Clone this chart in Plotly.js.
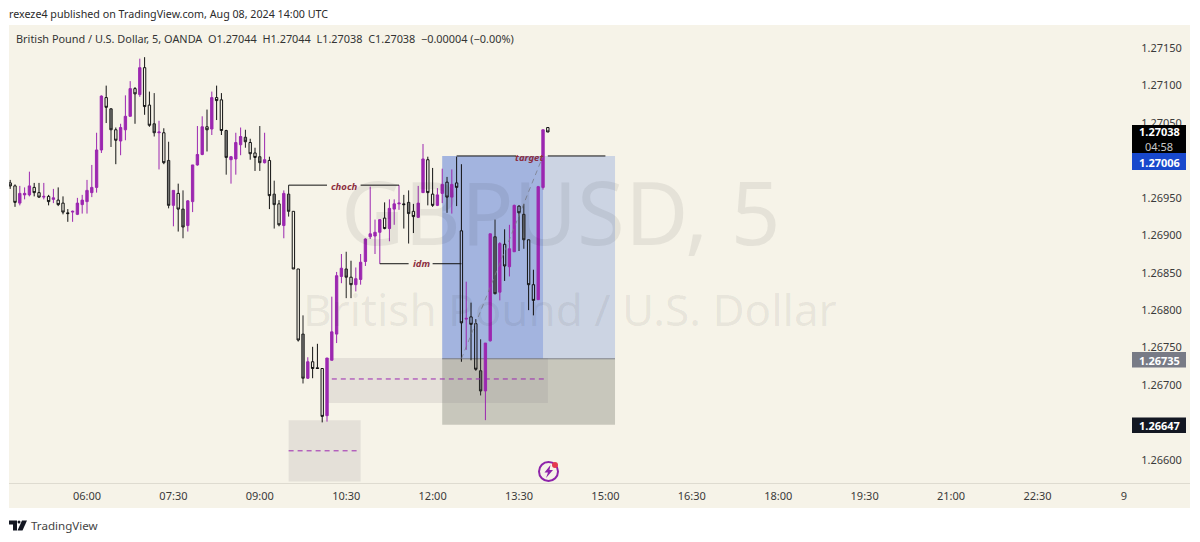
<!DOCTYPE html>
<html><head><meta charset="utf-8">
<script src="https://cdn.plot.ly/plotly-3.0.1.min.js"></script>
<style>html,body{margin:0;padding:0;background:#fff}#chart{width:1200px;height:542px}</style>
</head><body><div id="chart"></div>
<script>
const barTimes = ["04:40","04:45","04:50","04:55","05:00","05:05","05:10","05:15","05:20","05:25","05:30","05:35","05:40","05:45","05:50","05:55","06:00","06:05","06:10","06:15","06:20","06:25","06:30","06:35","06:40","06:45","06:50","06:55","07:00","07:05","07:10","07:15","07:20","07:25","07:30","07:35","07:40","07:45","07:50","07:55","08:00","08:05","08:10","08:15","08:20","08:25","08:30","08:35","08:40","08:45","08:50","08:55","09:00","09:05","09:10","09:15","09:20","09:25","09:30","09:35","09:40","09:45","09:50","09:55","10:00","10:05","10:10","10:15","10:20","10:25","10:30","10:35","10:40","10:45","10:50","10:55","11:00","11:05","11:10","11:15","11:20","11:25","11:30","11:35","11:40","11:45","11:50","11:55","12:00","12:05","12:10","12:15","12:20","12:25","12:30","12:35","12:40","12:45","12:50","12:55","13:00","13:05","13:10","13:15","13:20","13:25","13:30","13:35","13:40","13:45","13:50","13:55","14:00"];
const kinds = "DDUUUDDUDUDDDUUUUUUUDGDUUUDUDDGUDGUDGUUUUDUDDGUUUGDDGUDGDUGDDGUDDDUUUUGDUUUUUUDUUUDGDUUDDUUDUDDUDDGUUGUDUUDGDDUUD".split("");
const highs = [1.26974,1.26968,1.26966,1.26964,1.26985,1.26970,1.26970,1.26970,1.26954,1.26962,1.26964,1.26952,1.26935,1.26933,1.26950,1.26954,1.26974,1.26994,1.27037,1.27087,1.27100,1.27070,1.27044,1.27049,1.27087,1.27106,1.27098,1.27136,1.27138,1.27092,1.27090,1.27053,1.27043,1.27025,1.26960,1.26969,1.26960,1.26947,1.26994,1.27046,1.27059,1.27068,1.27092,1.27100,1.27090,1.27041,1.27006,1.27037,1.27044,1.27041,1.27029,1.27017,1.27046,1.27037,1.27005,1.26973,1.26947,1.26960,1.26967,1.26932,1.26855,1.26793,1.26737,1.26751,1.26755,1.26722,1.26736,1.26818,1.26851,1.26875,1.26878,1.26866,1.26857,1.26875,1.26896,1.26965,1.26921,1.26921,1.26944,1.26948,1.26948,1.26967,1.26954,1.26960,1.26942,1.26966,1.27022,1.27005,1.26990,1.26963,1.26989,1.26978,1.26988,1.27005,1.26995,1.26838,1.26810,1.26788,1.26761,1.26756,1.26902,1.26921,1.26891,1.26908,1.26914,1.26941,1.26940,1.26942,1.26894,1.26854,1.26966,1.27041,1.27044];
const bodyTops = [1.26970,1.26966,1.26956,1.26956,1.26966,1.26964,1.26957,1.26952,1.26952,1.26950,1.26947,1.26943,1.26930,1.26932,1.26943,1.26947,1.26960,1.26964,1.27014,1.27086,1.27084,1.27069,1.27041,1.27044,1.27059,1.27096,1.27096,1.27124,1.27124,1.27074,1.27049,1.27038,1.27037,1.27000,1.26960,1.26956,1.26935,1.26946,1.26994,1.27008,1.27045,1.27045,1.27084,1.27084,1.27081,1.27040,1.27005,1.27024,1.27032,1.27031,1.27024,1.27010,1.27005,1.27001,1.27000,1.26955,1.26942,1.26956,1.26955,1.26932,1.26855,1.26768,1.26731,1.26731,1.26723,1.26722,1.26736,1.26771,1.26846,1.26856,1.26855,1.26844,1.26842,1.26864,1.26895,1.26902,1.26904,1.26921,1.26923,1.26936,1.26942,1.26943,1.26942,1.26944,1.26932,1.26943,1.27002,1.27001,1.26955,1.26954,1.26968,1.26971,1.26968,1.26970,1.26906,1.26789,1.26791,1.26782,1.26719,1.26756,1.26902,1.26898,1.26889,1.26888,1.26882,1.26940,1.26939,1.26928,1.26894,1.26834,1.26965,1.27041,1.27044];
const bodyBottoms = [1.26966,1.26944,1.26943,1.26954,1.26954,1.26957,1.26951,1.26951,1.26945,1.26948,1.26941,1.26931,1.26929,1.26931,1.26928,1.26941,1.26945,1.26957,1.26964,1.27014,1.27071,1.27041,1.27027,1.27026,1.27041,1.27059,1.27089,1.27088,1.27072,1.27047,1.27037,1.27037,1.26997,1.26940,1.26940,1.26935,1.26911,1.26913,1.26945,1.26994,1.27008,1.27041,1.27042,1.27080,1.27040,1.27004,1.27001,1.27002,1.27021,1.27025,1.27009,1.27004,1.26997,1.26997,1.26953,1.26941,1.26914,1.26913,1.26932,1.26855,1.26760,1.26709,1.26709,1.26722,1.26722,1.26658,1.26659,1.26733,1.26768,1.26845,1.26844,1.26834,1.26834,1.26841,1.26865,1.26898,1.26899,1.26904,1.26909,1.26909,1.26935,1.26942,1.26941,1.26929,1.26925,1.26924,1.26957,1.26957,1.26940,1.26940,1.26956,1.26951,1.26951,1.26964,1.26783,1.26788,1.26781,1.26721,1.26692,1.26692,1.26759,1.26822,1.26824,1.26859,1.26858,1.26878,1.26930,1.26894,1.26834,1.26813,1.26814,1.26964,1.27038];
const lows = [1.26962,1.26938,1.26940,1.26948,1.26952,1.26952,1.26950,1.26948,1.26940,1.26943,1.26939,1.26928,1.26918,1.26918,1.26927,1.26929,1.26929,1.26951,1.26957,1.27010,1.27050,1.27018,1.26995,1.27007,1.27027,1.27059,1.27049,1.27085,1.27061,1.27045,1.27032,1.26988,1.26995,1.26936,1.26912,1.26905,1.26896,1.26905,1.26931,1.26993,1.27007,1.27012,1.27034,1.27054,1.27034,1.26981,1.26969,1.26981,1.27007,1.27017,1.27001,1.26986,1.26986,1.26996,1.26935,1.26909,1.26912,1.26896,1.26925,1.26855,1.26758,1.26702,1.26708,1.26709,1.26722,1.26650,1.26651,1.26733,1.26756,1.26836,1.26816,1.26816,1.26825,1.26834,1.26859,1.26895,1.26875,1.26862,1.26908,1.26892,1.26914,1.26934,1.26909,1.26889,1.26903,1.26923,1.26957,1.26940,1.26938,1.26939,1.26943,1.26930,1.26929,1.26939,1.26731,1.26747,1.26733,1.26719,1.26686,1.26653,1.26758,1.26821,1.26813,1.26839,1.26845,1.26878,1.26879,1.26882,1.26800,1.26793,1.26814,1.26961,1.27038];

const priceTicks = [1.266,1.2665,1.267,1.2675,1.268,1.2685,1.269,1.2695,1.27,1.2705,1.271,1.2715];
const timeTicks = ["2024-08-08 06:00","2024-08-08 07:30","2024-08-08 09:00","2024-08-08 10:30","2024-08-08 12:00","2024-08-08 13:30","2024-08-08 15:00","2024-08-08 16:30","2024-08-08 18:00","2024-08-08 19:30","2024-08-08 21:00","2024-08-08 22:30","2024-08-09 00:00"];
const timeLabels = ["06:00","07:30","09:00","10:30","12:00","13:30","15:00","16:30","18:00","19:30","21:00","22:30","9"];
const targetPrice = 1.27006, entryPrice = 1.26735, stopPrice = 1.26647;
const chochPrice = 1.26967, idmPrice = 1.26862;
const upperZone = [1.26676, 1.26736], upperZoneMid = 1.26708;
const lowerZone = [1.26571, 1.26653], lowerZoneMid = 1.26612;
const D = "2024-08-08 ";

const FONT = "Noto Sans, sans-serif";
const L = 9, R = 1132, T = 25, B = 483;
const px = x => (x - L) / (R - L);
const py = y => 1 - (y - T) / (B - T);
const CREAM = "#f6f3e8", PURPLE = "#9c27b0";

function candleTrace(kind, lineColor, fill) {
  const idx = kinds.map((k, i) => k === kind ? i : -1).filter(i => i >= 0);
  const side = {line: {color: lineColor, width: 1}, fillcolor: fill};
  return {
    type: "candlestick", x: idx.map(i => D + barTimes[i]),
    open:  idx.map(i => kind === "U" ? bodyBottoms[i] : bodyTops[i]),
    close: idx.map(i => kind === "U" ? bodyTops[i] : bodyBottoms[i]),
    high:  idx.map(i => highs[i]), low: idx.map(i => lows[i]),
    increasing: side, decreasing: side, whiskerwidth: 0,
    hoverinfo: "skip", showlegend: false
  };
}
const traces = [
  candleTrace("U", PURPLE, PURPLE),
  candleTrace("D", "#111111", "rgba(0,0,0,0)"),
  candleTrace("G", "#222222", "rgba(85,85,85,0.8)")
];

function rect(x0, x1, y0, y1, fill) {
  return {type: "rect", layer: "below", xref: "x", yref: "y", x0: D + x0, x1: D + x1, y0, y1, fillcolor: fill, line: {width: 0}};
}
function seg(x0, x1, y0, y1, color, dash, layer) {
  return {type: "line", layer: layer || "above", xref: "x", yref: "y", x0: D + x0, x1: D + x1, y0, y1, line: {color, width: 1, dash: dash || "solid"}};
}
function box(x0, x1, y0, y1, fill) {
  return {type: "rect", layer: "above", xref: "paper", yref: "paper", x0: px(x0), x1: px(x1), y0: py(y0), y1: py(y1), fillcolor: fill, line: {width: 0}};
}
const shapes = [
  {type: "rect", layer: "below", xref: "paper", yref: "paper", x0: px(9), x1: px(1190), y0: py(25), y1: py(508), fillcolor: CREAM, line: {width: 0}},
  {type: "line", layer: "below", xref: "paper", yref: "paper", x0: px(9), x1: px(1190), y0: py(483.5), y1: py(483.5), line: {color: "#dedbd0", width: 1}},
  rect("12:10", "15:10", entryPrice, targetPrice, "rgba(41,88,212,0.2)"),
  rect("12:10", "13:55", entryPrice, targetPrice, "rgba(71,105,215,0.3)"),
  rect("12:10", "15:10", stopPrice, entryPrice, "rgba(93,100,85,0.3)"),
  rect("10:10", "14:00", upperZone[0], upperZone[1], "rgba(125,123,125,0.15)"),
  rect("09:30", "10:45", lowerZone[0], lowerZone[1], "rgba(125,123,125,0.15)"),
  seg("12:10", "15:10", entryPrice, entryPrice, "rgba(110,112,120,0.8)", "solid", "below"),
  seg("12:30", "13:55", entryPrice, targetPrice, "rgba(120,123,134,0.75)", "5px,4px"),
  seg("10:15", "14:00", upperZoneMid, upperZoneMid, PURPLE, "5px,4px"),
  seg("09:30", "10:45", lowerZoneMid, lowerZoneMid, PURPLE, "5px,4px"),
  seg("09:30", "10:10", chochPrice, chochPrice, "#111111"),
  seg("10:45", "11:25", chochPrice, chochPrice, "#111111"),
  seg("11:05", "11:35", idmPrice, idmPrice, "#111111"),
  seg("12:00", "12:30", idmPrice, idmPrice, "#111111"),
  seg("12:25", "13:27", targetPrice, targetPrice, "#111111"),
  seg("14:00", "15:00", targetPrice, targetPrice, "#111111"),
  box(1132, 1186, 125, 153, "#000000"),
  box(1132, 1186, 153, 170, "#1848cc"),
  box(1132, 1186, 352, 367.5, "#787b86"),
  box(1132, 1186, 417.5, 433, "#131722"),
  // publish-mark icon
  {type: "circle", layer: "above", xref: "paper", yref: "paper", x0: px(539), x1: px(558), y0: py(462), y1: py(481), line: {color: "#8e24aa", width: 2}, fillcolor: "rgba(0,0,0,0)"},
  {type: "path", layer: "above", xref: "paper", yref: "paper", path: `M ${px(550.5)} ${py(465)} L ${px(544.5)} ${py(472.5)} L ${px(548)} ${py(472.5)} L ${px(546)} ${py(478)} L ${px(553)} ${py(470)} L ${px(549.5)} ${py(470)} Z`, fillcolor: "#8e24aa", line: {width: 0}},
  {type: "circle", layer: "above", xref: "paper", yref: "paper", x0: px(552), x1: px(558), y0: py(462), y1: py(468), line: {width: 0}, fillcolor: "#e53950"},
  // TradingView logo mark
  {type: "path", layer: "above", xref: "paper", yref: "paper", path: `M ${px(9)} ${py(520.5)} H ${px(17)} V ${py(530.5)} H ${px(13)} V ${py(524.5)} H ${px(9)} Z`, fillcolor: "#131722", line: {width: 0}},
  {type: "circle", layer: "above", xref: "paper", yref: "paper", x0: px(17.5), x1: px(20.5), y0: py(520.5), y1: py(523.5), fillcolor: "#131722", line: {width: 0}},
  {type: "path", layer: "above", xref: "paper", yref: "paper", path: `M ${px(22)} ${py(520.5)} H ${px(27)} L ${px(22.5)} ${py(530.5)} H ${px(17.5)} Z`, fillcolor: "#131722", line: {width: 0}}
];
function label(text, x, y, size, color, extra) {
  return Object.assign({text, xref: "paper", yref: "paper", x: px(x), y: py(y), xanchor: "left", yanchor: "middle", showarrow: false,
    borderpad: 0, borderwidth: 0, font: {family: FONT, size, color}}, extra || {});
}
const annotations = [
  label("GBPUSD, 5", 561, 211, 87, "rgba(30,30,30,0.075)", {xanchor: "center"}),
  label("British Pound / U.S. Dollar", 570, 309, 44, "rgba(30,30,30,0.075)", {xanchor: "center"}),
  label("rexeze4 published on TradingView.com, Aug 08, 2024 14:00 UTC", 9, 14, 10.7, "#2b2b2b"),
  label("British Pound / U.S. Dollar, 5, OANDA&nbsp;&nbsp;O1.27044&nbsp;&nbsp;H1.27044&nbsp;&nbsp;L1.27038&nbsp;&nbsp;C1.27038&nbsp;&nbsp;−0.00004 (−0.00%)", 16, 39, 10.9, "#333333"),
  label("TradingView", 31, 525, 11.6, "#444444"),
  label("<i><b>choch</b></i>", 344, 186, 9.5, "#8c2f3f", {xanchor: "center"}),
  label("<i><b>idm</b></i>", 421, 263.5, 9.5, "#8c2f3f", {xanchor: "center"}),
  label("<i><b>target</b></i>", 529, 157, 9.5, "#8c2f3f", {xanchor: "center"}),
  label("<b>1.27038</b>", 1159, 132, 11, "#ffffff", {xanchor: "center"}),
  label("04:58", 1159, 146, 11, "#c8c8c8", {xanchor: "center"}),
  label("<b>1.27006</b>", 1159, 162, 11, "#ffffff", {xanchor: "center"}),
  label("<b>1.26735</b>", 1159, 360, 11, "#ffffff", {xanchor: "center"}),
  label("<b>1.26647</b>", 1159, 425, 11, "#ffffff", {xanchor: "center"})
];
const layout = {
  width: 1200, height: 542, autosize: false,
  margin: {l: L, r: 1200 - R, t: T, b: 542 - B, pad: 0},
  paper_bgcolor: "#ffffff", plot_bgcolor: "rgba(0,0,0,0)",
  showlegend: false, dragmode: false, boxgap: 0.3, boxgroupgap: 0.3,
  font: {family: FONT},
  xaxis: {type: "date", range: ["2024-08-08 04:38:45", "2024-08-09 00:08:30"], tickmode: "array", tickvals: timeTicks, ticktext: timeLabels,
    showgrid: false, zeroline: false, showline: false, ticks: "outside", ticklen: 3, tickcolor: "rgba(0,0,0,0)",
    tickfont: {family: FONT, size: 11, color: "#3a3a3a"}, rangeslider: {visible: false}, fixedrange: true},
  yaxis: {side: "right", range: [1.26569, 1.27181], tickmode: "array", tickvals: priceTicks, ticktext: priceTicks.map(v => v.toFixed(5)),
    showgrid: false, zeroline: false, showline: false, ticks: "outside", ticklen: 6, tickcolor: "rgba(0,0,0,0)",
    tickfont: {family: FONT, size: 11, color: "#3a3a3a"}, fixedrange: true},
  shapes, annotations
};
Plotly.newPlot("chart", traces, layout, {displayModeBar: false, staticPlot: true});
</script></body></html>
